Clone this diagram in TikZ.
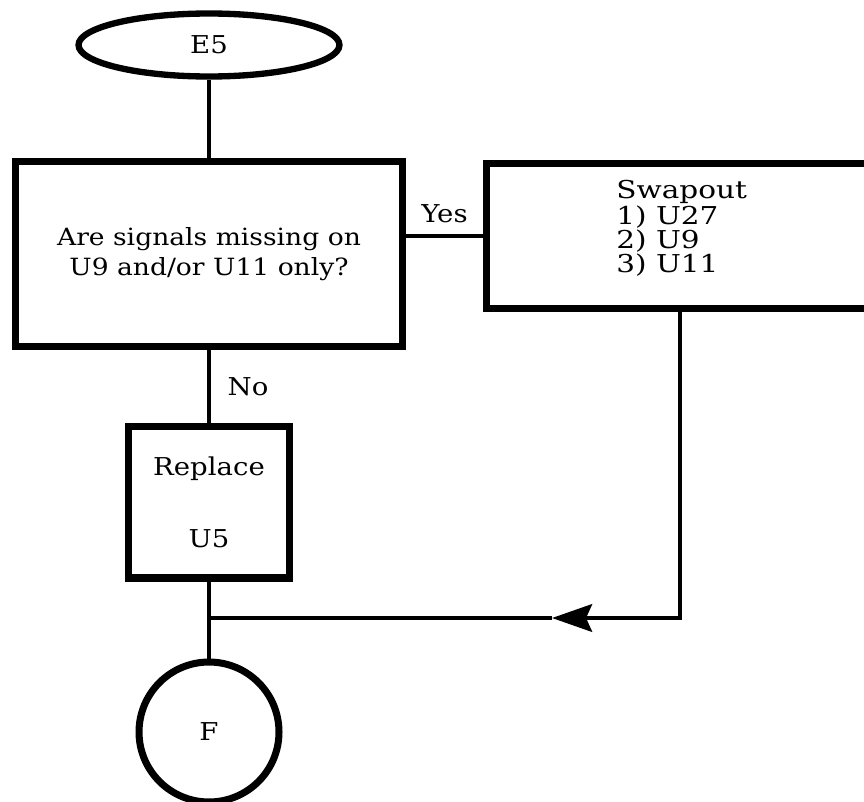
\documentclass[tikz,border=0pt]{standalone}
\usepackage{fontspec}
\setmainfont[FakeStretch=1.12]{DejaVu Serif}
\newfontfamily\widefont[FakeStretch=1.2]{DejaVu Serif}
\usetikzlibrary{shapes.geometric,arrows.meta}
\tikzset{
  box/.style={draw, rectangle, line width=4pt, inner sep=0pt},
  wire/.style={line width=2.6pt},
}
\begin{document}
\begin{tikzpicture}[x=0.02cm,y=-0.02cm,font=\fontsize{14}{17}\selectfont]
\useasboundingbox (0,0) rectangle (864,801);
\clip (0,0) rectangle (864,801);
\node[draw, ellipse, line width=3.6pt, minimum width=5.22cm, minimum height=1.26cm, inner sep=0pt] (e5) at (209,45) {E5};
\node[box, minimum width=7.74cm, minimum height=3.7cm, align=center, font=\fontsize{13.5}{17}\selectfont] (ask) at (209,254) {Are signals missing on\\U9 and/or U11 only?};
\node[box, minimum width=7.74cm, minimum height=2.9cm] (swap) at (680,236) {};
\node[anchor=north west, inner sep=0pt, align=left, font=\widefont\fontsize{14}{12.8}\selectfont] (swaptxt) at (616,180) {Swapout\\1) U27\\2) U9\\3) U11};
\node[box, minimum width=3.22cm, minimum height=3.04cm, align=center] (repl) at (209,502) {Replace\\[24pt]U5};
\node[draw, circle, line width=4pt, minimum size=2.8cm, inner sep=0pt] (fin) at (209,732) {F};
\coordinate (join) at (209,618);
\coordinate (tip) at (552,618);
\draw[wire] (e5.south) -- (ask.north);
\draw[wire] (swap.west -| ask.east) -- (swap.west) node[pos=0.5, above=3pt] (yes) {Yes};
\draw[wire] (ask.south) -- (repl.north) node[pos=0.5, right=6pt] (no) {No};
\draw[wire] (repl.south) -- (fin.north);
\draw[wire,-{Stealth[length=0.8cm,width=0.55cm,inset=0.12cm]}] (swap.south) |- (tip);
\draw[wire] (tip) -- (join);
\end{tikzpicture}
\end{document}
